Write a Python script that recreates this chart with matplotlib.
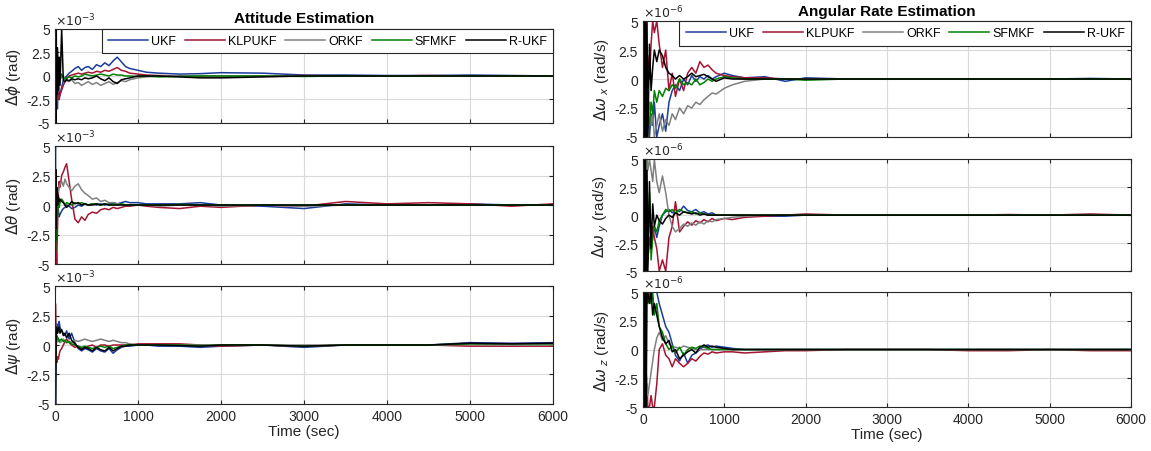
import matplotlib
matplotlib.use('Agg')
import matplotlib.pyplot as plt
import numpy as np

plt.rcParams['font.family'] = ['Liberation Sans', 'DejaVu Sans']
plt.rcParams['mathtext.fontset'] = 'dejavusans'

# common time grid (sec), denser at the start
t = [0, 5, 10, 15, 20, 30, 40, 50, 60, 80, 100, 120, 140, 170, 200, 240, 280, 320, 360, 400,
     450, 500, 550, 600, 650, 700, 750, 800, 850, 900, 1000, 1100, 1250, 1500, 1750, 2000,
     2500, 3000, 3500, 4000, 4500, 5000, 5500, 6000]

names = ['UKF', 'KLPUKF', 'ORKF', 'SFMKF', 'R-UKF']
colors = ['#1a3c9c', '#a51432', '#808080', '#008000', '#000000']

# attitude errors (x1e-3 rad)
ukf_phi = [0, -5, 3.5, -3, 2, -3.5, 1.5, -2.5, -2, -1.2, -0.5, -0.2, 0, 0.3, 0.5, 0.8, 1.0, 0.6, 0.9, 1.0,
           0.7, 1.2, 1.0, 1.4, 1.1, 1.6, 2.0, 1.5, 1.0, 0.8, 0.6, 0.4, 0.3, 0.2, 0.25, 0.35, 0.3, 0.1,
           0.1, 0.05, 0.05, 0.1, 0.05, 0.0]
klp_phi = [0, 5, -4, 3, -3, -1.5, -2.5, -2.2, -2.0, -1.5, -1.0, -0.6, -0.3, 0, 0.1, 0.2, 0.3, 0.2, 0.3, 0.4,
           0.3, 0.5, 0.4, 0.6, 0.5, 0.7, 0.9, 0.6, 0.5, 0.3, 0.2, 0.1, 0.05, 0, -0.05, -0.1, 0, 0.05,
           0, 0, 0.05, 0, 0, 0]
or_phi = [0, 3, -3, 2, -1, -0.5, -1, -0.5, -0.3, -0.2, 0, -0.3, -0.5, -0.6, -0.4, -0.8, -0.7, -1.0, -0.8, -0.6,
          -0.9, -0.7, -1.0, -0.8, -0.6, -0.9, -0.7, -0.5, -0.6, -0.4, -0.2, -0.1, 0, 0, 0.05, 0, -0.05, 0,
          0, 0, 0, 0, 0, 0]
sf_phi = [0, -3.5, 2, -1, 1.5, -0.5, 0.5, -0.8, -0.3, 0.2, -0.2, -0.3, -0.2, -0.1, -0.2, 0, -0.1, 0, 0.2, 0.1,
          0.0, 0.1, 0.2, 0.1, 0, 0.2, 0.1, 0.1, 0, 0, -0.05, 0, -0.1, -0.05, 0, 0, 0, -0.05, 0, 0, 0, 0,
          0, 0]
r_phi = [0, 5, -5, 5, -2, 3, -1.5, 2, -1, 5, -0.5, -0.6, -0.4, -0.5, -0.3, -0.4, -0.3, -0.4, -0.2, -0.3,
         -0.2, 0, -0.3, -0.5, -0.2, -0.6, -0.8, -0.4, -0.3, -0.2, 0, 0, 0, -0.1, -0.2, -0.2, -0.1, 0,
         0, 0, 0, 0, 0, 0]

ukf_th = [0, 5, -3, 1, -2, 0.5, -0.5, -1.0, -0.8, -0.5, -0.3, -0.2, 0, -0.1, -0.3, -0.2, 0, -0.1, 0.1, 0,
          0.1, 0, 0.1, 0, 0.1, 0.2, 0.1, 0.2, 0.3, 0.2, 0.2, 0.1, 0.1, 0.1, 0.2, 0, -0.1, -0.3, 0.1, 0,
          0, 0.1, 0.0, 0.0]
klp_th = [0, -5, 3, -4, -5, -2, 1, 2.0, 1.5, 2.5, 2.8, 3.2, 3.5, 2.0, 0.5, -1.2, -1.5, -1.0, -1.3, -0.8,
          -0.6, -0.7, -0.4, -0.3, -0.4, -0.2, -0.3, -0.2, -0.1, -0.1, 0, -0.1, -0.2, -0.3, -0.1, -0.2, 0,
          -0.1, 0.3, 0.1, 0.2, 0.1, -0.1, 0.1]
or_th = [0, 2, 1, 0.5, 1.5, 1.0, 1.2, 1.5, 1.8, 2.0, 1.6, 2.2, 1.8, 1.5, 1.2, 1.6, 1.8, 1.3, 1.0, 0.8,
         0.5, 0.6, 0.3, 0.4, 0.2, 0.2, 0.1, 0.1, 0, 0, 0, 0, -0.1, 0, 0, -0.1, 0, -0.1, 0, 0, 0, 0, 0, 0]
sf_th = [0, -4, 2, -3, 1, -1, 0.5, -0.2, 0.2, 0.5, 0.3, 0, 0.2, 0.1, 0, 0.2, 0.1, 0.2, 0.1, 0, 0.1, 0.1,
         0, 0.1, 0, 0.1, 0, 0.1, 0, 0, 0, 0, 0, 0.05, 0, 0, 0, 0, 0, 0, 0, 0, 0, 0]
r_th = [0, -3, 3, -2, 1.5, 0, 0.8, 0.3, 0.5, 0.3, 0.2, 0.0, -0.2, 0, 0.3, 0.1, 0.2, 0, 0.1, 0, 0, 0.1,
        0, 0.1, 0, 0, 0, 0, 0, 0, 0, 0, 0, 0, 0, 0, 0, 0, 0, 0, 0, 0, 0, 0]

ukf_psi = [0, -5, -3, 0, 1.8, 1.5, 1.2, 2.0, 1.5, 1.2, 1.0, 0.8, 1.2, 0.5, 1.0, 0.2, -0.3, -0.5, -0.3, -0.4,
           -0.6, -0.3, -0.5, -0.6, -0.3, -0.7, -0.4, -0.2, -0.1, -0.1, 0, 0, -0.1, -0.1, -0.2, -0.1, 0,
           -0.2, 0, 0, 0, 0.2, 0.15, 0.2]
klp_psi = [0, 3.5, 2, -1, -1.5, -1.0, -1.2, -0.8, -0.5, -0.3, 0, 0.3, 0.5, 0.2, 0, -0.2, -0.1, -0.3, -0.2,
           -0.1, 0, -0.2, 0, 0, -0.1, 0, 0, 0, 0, 0, 0.1, 0.1, 0.1, 0.1, 0, -0.1, 0, -0.1, 0, 0, 0, -0.1,
           -0.1, -0.1]
or_psi = [0, 2, 0.5, 0.3, 0.2, 0.5, 0.3, 0.4, 0.2, 0.3, 0.5, 0.3, 0.2, 0.3, 0.2, 0.4, 0.3, 0.4, 0.5, 0.4,
          0.3, 0.4, 0.5, 0.4, 0.3, 0.4, 0.3, 0.2, 0.2, 0.1, 0, 0, 0, 0, 0, 0, 0, 0, 0, 0, 0, 0.05, 0, 0]
sf_psi = [0, -2, 1, 0.5, 0.8, 0.5, 0.6, 0.3, 0.4, 0.5, 0.3, 0.4, 0.2, 0.3, 0.1, 0, -0.1, -0.2, -0.1, -0.2,
          -0.3, -0.2, -0.1, -0.2, -0.1, -0.3, -0.2, -0.1, 0, 0, 0, 0, 0, 0, -0.05, 0, 0, -0.1, 0, 0, 0,
          0.1, 0.1, 0.1]
r_psi = [0, -5, -2, 1.5, 1.5, 1.0, 1.3, 1.5, 1.0, 1.3, 0.8, 1.0, 0.6, 1.0, 0.4, 0.1, -0.2, -0.4, -0.2, -0.3,
         -0.5, -0.2, -0.4, -0.5, -0.2, -0.5, -0.3, -0.1, -0.1, 0, 0, 0, 0, -0.05, -0.1, 0, 0, -0.1, 0, 0,
         0, 0.15, 0.1, 0.15]

# angular rate errors (x1e-6 rad/s)
ukf_wx = [0, 5, -5, 3, -4, -5, -3, -4, -2, -5, -3, -4, -2, -5, -4, -3, -4.5, -2, -1, -0.5, -1, 0, -0.5,
          0.3, -0.2, 0.2, 0, 0.3, 0, 0.2, 0.5, 0.3, 0.1, 0.2, -0.2, 0.1, 0, 0, 0, 0, 0, 0, 0.05, 0]
klp_wx = [0, -5, 5, -3, 3, -2, 4, -4, 2, 0, 3, 5, 4, 5, 3, 1, 2.5, -1, 0.5, -1.5, 0, -1, 0.5, 1.0, 0.5,
          1.5, 1.0, 1.2, 0.8, 0.5, 0.3, 0.2, 0.1, 0.1, 0, 0, 0, 0, 0, 0, 0, 0, 0, 0]
or_wx = [0, 3, -3, 2, -2, 0, -1, -2, -3, -2, -4, -3, -5, -4, -3, -4.5, -3.5, -4, -3, -3.5, -2.5, -3, -2.3,
         -2.5, -2, -2.2, -1.8, -1.5, -1.2, -1.3, -0.8, -0.5, -0.2, 0, 0, 0, 0, 0, 0, 0, 0, 0, 0, 0]
sf_wx = [0, -5, 5, -5, 5, -5, 3, -5, -3, -4, -2, -3, -1, -2, -1, -1.5, -0.8, -1, -0.5, -0.8, 0, -0.5, -0.3,
         -0.5, 0, -0.5, -0.3, 0, -0.2, 0, 0.2, 0.1, 0, 0, 0, -0.1, 0, 0, 0, 0, 0, 0, 0, 0]
r_wx = [0, 5, -5, 5, -5, 5, -5, 5, -5, 3, -1, 1, 2.5, 1.5, 2.5, 2.0, 1.0, 0.5, 0.3, 0, 0.3, 0, 0.2, 0.5,
        0.2, 0.3, 0.4, 0.2, 0, -0.2, 0.1, 0, 0, 0, 0, 0, 0, 0, 0, 0, 0, 0, 0, 0]

ukf_wy = [0, -5, 5, -5, 3, -5, -3, -5, -4, -2, -3, -2, -1, -2, -1, 0, 0.3, 0.5, 0.2, 0.5, 0.3, 0.8, 0.4,
          0.3, 0.5, 0.2, 0.3, 0.1, 0.2, 0, 0, 0, 0, -0.1, -0.1, 0, 0, 0, 0, 0, 0, 0, 0, 0]
klp_wy = [0, 5, -5, 3, -4, -2, -5, -3, -4, -2, -3, -1, -2, -3, -5, -4, -5, -2, -1, 1.2, -1.5, -1.0, -0.6,
          -0.9, -0.5, -0.7, -0.4, -0.6, -0.3, -0.5, -0.3, -0.4, -0.2, -0.1, 0, 0.1, 0, 0, 0, 0, 0.05, 0,
          0.1, 0]
or_wy = [0, 3, -2, 1, 4, 5, 3, 5, 4, 5, 4, 3, 5, 3, 2, 3.5, 2, 0, -1, -1.5, -1.2, -0.8, -1.0, -0.7, -0.9,
         -0.6, -0.8, -0.5, -0.6, -0.4, -0.3, -0.2, -0.1, 0, 0, 0, 0, 0, 0, 0, 0, 0, 0, 0]
sf_wy = [0, 5, -5, 5, -5, 5, -5, 3, -3, 2, -4, -2, -1, -1.5, -0.5, 0, 0.5, 0.3, 0.5, 0.2, 0.5, 0.3, 0.2,
         0.3, 0.1, 0.2, 0.1, 0, 0, 0, 0, 0, 0, 0, 0, 0, 0, 0, 0, 0, 0, 0, 0, 0]
r_wy = [0, 5, -5, 5, -5, 5, -5, 4, -5, 3, -3, 1, -1, 0, -0.5, -0.8, -0.3, 0, -0.2, 0.2, 0, 0.3, 0.2, 0.1,
        0.2, 0, 0.1, 0, 0, 0, 0, 0, 0, 0, 0, 0, 0, 0, 0, 0, 0, 0, 0, 0]

ukf_wz = [0, 5, -5, 5, 3, 5, 4, 5, 5, 5, 5, 5, 5, 5, 4, 3, 2, 1.5, 0.5, -0.5, -1.0, -0.3, -1.2, -0.5, -0.3,
          0, 0.3, 0.4, 0.2, 0.3, 0.2, 0.1, 0, 0, 0, 0, 0, 0, 0, 0, 0, 0, 0, 0]
klp_wz = [0, -3, 2, -2, 0, -2, -4, -3, -5, -5, -4, -5, -5, -3, 0, 0.5, -0.5, -0.8, -1.5, -0.8, -1.2, -1.5,
          -1.2, -0.8, -1.0, -0.6, -0.3, -0.4, -0.2, -0.3, -0.2, -0.2, -0.3, -0.2, -0.1, -0.1, 0, 0, 0,
          -0.1, -0.1, 0, -0.1, -0.1]
or_wz = [0, 5, 4, 5, 2, 0, -2, -3, -4, -3, -2, -1, 0, 1.0, 1.5, 0.8, 1.2, 0.5, 0.3, 0.2, 0.1, 0.3, 0.2,
         0.1, 0, 0, 0, 0, 0, 0, 0, 0, 0, 0, 0, 0, 0, 0, 0, 0, 0, 0, 0, 0]
sf_wz = [0, 5, 3, 5, 4, 5, 5, 5, 4, 5, 4, 5, 3, 4, 2, 1.5, 0.5, 0, 0.3, -0.3, 0.2, -0.5, 0, 0.2, 0.1, 0.3,
         0.2, 0.1, 0, 0, 0, 0, 0, 0, 0, 0, 0, 0, 0, 0, 0, 0, 0, 0]
r_wz = [0, 5, -5, 5, -5, 5, -5, 5, 5, 4, 5, 3, 4, 3, 2, 1.0, 0.5, 0.8, -0.2, 0, -0.8, -0.5, -0.2, 0,
        -0.3, 0.2, 0.4, 0.2, 0.3, 0.2, 0.1, 0, 0, 0, 0, 0, 0, 0, 0, 0, 0, 0, 0, 0]

fig = plt.figure(figsize=(11.51, 4.52), dpi=100)

left_pos = [[0.0478, 0.7257, 0.4327, 0.208],
            [0.0478, 0.4137, 0.4327, 0.261],
            [0.0478, 0.104, 0.4327, 0.261]]
right_pos = [[0.5586, 0.6947, 0.424, 0.2566],
             [0.5586, 0.398, 0.424, 0.2478],
             [0.5586, 0.0973, 0.424, 0.2544]]

panels = [
    (left_pos[0], [ukf_phi, klp_phi, or_phi, sf_phi, r_phi], r'$\Delta\phi$ (rad)', '-3'),
    (left_pos[1], [ukf_th, klp_th, or_th, sf_th, r_th], r'$\Delta\theta$ (rad)', '-3'),
    (left_pos[2], [ukf_psi, klp_psi, or_psi, sf_psi, r_psi], r'$\Delta\psi$ (rad)', '-3'),
    (right_pos[0], [ukf_wx, klp_wx, or_wx, sf_wx, r_wx], r'$\Delta\omega_{\ x}$ (rad/s)', '-6'),
    (right_pos[1], [ukf_wy, klp_wy, or_wy, sf_wy, r_wy], r'$\Delta\omega_{\ y}$ (rad/s)', '-6'),
    (right_pos[2], [ukf_wz, klp_wz, or_wz, sf_wz, r_wz], r'$\Delta\omega_{\ z}$ (rad/s)', '-6'),
]

axes = []
for i, (pos, series, ylab, expo) in enumerate(panels):
    ax = fig.add_axes(pos)
    for s, c, n in zip(series, colors, names):
        ax.plot(t, s, color=c, lw=1.1, label=n)
    ax.set_xlim(0, 6000)
    ax.set_ylim(-5, 5)
    ax.set_xticks(np.arange(0, 6001, 1000))
    ax.set_yticks([-5, -2.5, 0, 2.5, 5])
    ax.set_yticklabels(['-5', '-2.5', '0', '2.5', '5'])
    ax.grid(True, color='#d9d9d9', lw=0.8)
    ax.set_axisbelow(True)
    ax.tick_params(direction='in', length=3, labelsize=10, colors='#262626',
                   top=True, right=True)
    for sp in ax.spines.values():
        sp.set_color('#262626')
        sp.set_linewidth(0.8)
    ax.set_ylabel(ylab, fontsize=11, color='#262626', labelpad=2)
    ax.text(0.0, 1.005, r'$\times10^{' + expo + '}$', transform=ax.transAxes,
            fontsize=9, color='#262626', va='bottom', ha='left')
    if i in (2, 5):
        ax.set_xlabel('Time (sec)', fontsize=11, color='#262626', labelpad=1)
    else:
        ax.set_xticklabels([])
    axes.append(ax)

axes[0].set_title('Attitude Estimation', fontsize=11, fontweight='bold', pad=5)
axes[3].set_title('Angular Rate Estimation', fontsize=11, fontweight='bold', pad=4)

for k in (0, 3):
    leg = axes[k].legend(loc='upper right', bbox_to_anchor=(1.0, 1.0), ncol=5, fontsize=9,
                         handlelength=3.2, handletextpad=0.25, columnspacing=0.7,
                         borderaxespad=0.0, fancybox=False, framealpha=1, borderpad=0.5)
    leg.get_frame().set_edgecolor('#262626')
    leg.get_frame().set_linewidth(0.8)

fig.savefig('out.png', dpi=100)
